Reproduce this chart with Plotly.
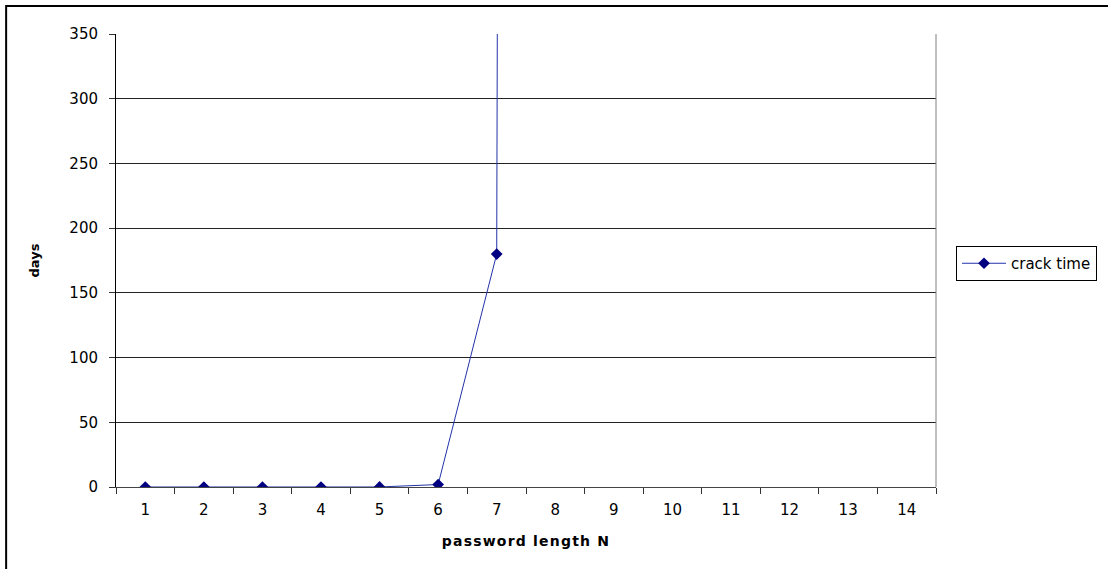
import plotly.graph_objects as go

categories = [str(i) for i in range(1, 15)]
lengths = ["1", "2", "3", "4", "5", "6", "7", "8"]
crack_days = [0.0, 0.0, 0.0, 0.0, 0.02, 1.9, 180, 17100]
y_ticks = [0, 50, 100, 150, 200, 250, 300, 350]

W, H = 1108, 569
L, R, T, B = 116, W - 937, 34, H - 487
FONT = "DejaVu Sans, Arial, sans-serif"

fig = go.Figure()
fig.add_trace(go.Scatter(
    x=lengths, y=crack_days, mode="lines+markers", name="crack time",
    line=dict(color="#2232a8", width=1),
    marker=dict(symbol="diamond", size=9, color="#000080"),
    cliponaxis=True,
))

pw = W - L - R
ph = H - T - B
fig.add_shape(type="rect", xref="paper", yref="paper",
              x0=(6 - L) / pw, x1=(W + 20 - L) / pw,
              y0=-(B + 20) / ph, y1=(H - 6 - B) / ph,
              line=dict(color="black", width=2), layer="below")
fig.add_shape(type="line", xref="paper", yref="paper", x0=1, x1=1, y0=0, y1=1,
              line=dict(color="#808080", width=1))

fig.update_layout(
    width=W, height=H,
    margin=dict(l=L, r=R, t=T, b=B),
    paper_bgcolor="white", plot_bgcolor="white",
    font=dict(family=FONT, size=15, color="black"),
    showlegend=True,
    legend=dict(x=(956 - L) / pw, xanchor="left", y=(H - 246 - B) / ph, yanchor="top",
                bordercolor="black", borderwidth=1, bgcolor="white",
                font=dict(size=15), itemwidth=44, tracegroupgap=0),
    xaxis=dict(type="category", categoryorder="array", categoryarray=categories,
               range=[-0.5, 13.5], tickson="boundaries", ticks="outside", ticklen=6,
               tickcolor="#333", showgrid=False, showline=True, linecolor="#444",
               linewidth=1, zeroline=False, tickfont=dict(size=15), ticklabelstandoff=9,
               title=dict(text='<span style="letter-spacing:1.2px">password length N</span>',
                          font=dict(size=14, family=FONT, weight="bold"),
                          standoff=18)),
    yaxis=dict(range=[0, 350], tickvals=y_ticks, ticks="outside", ticklen=6,
               tickcolor="#333", showgrid=True, gridcolor="#222", gridwidth=1,
               showline=True, linecolor="black", linewidth=1, zeroline=False,
               tickfont=dict(size=15), ticklabelstandoff=8,
               title=dict(text="days",
                          font=dict(size=13, family=FONT, weight="bold"),
                          standoff=26)),
)

fig.write_html("out.html", config={"displayModeBar": False},
               post_script="document.body.style.margin='0px';")
